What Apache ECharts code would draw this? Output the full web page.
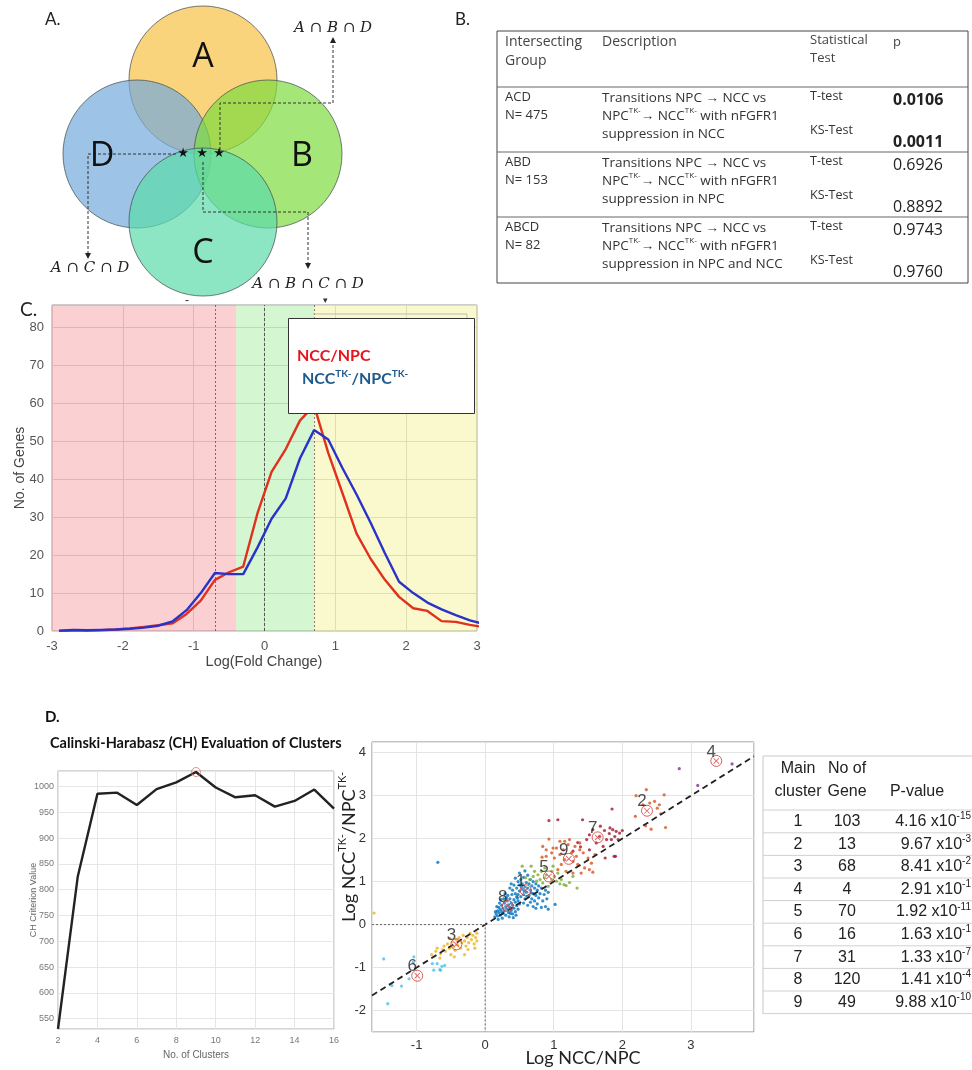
<!DOCTYPE html>
<html><head><meta charset="utf-8">
<script src="https://cdn.jsdelivr.net/npm/echarts@6/dist/echarts.min.js"></script>
<style>html,body{margin:0;padding:0;background:#fff}#c{width:972px;height:1070px}</style>
</head><body><div id="c"></div>
<script>
// ---------- Panel C: histogram curves ----------
const foldChangeBins = [-2.9,-2.7,-2.5,-2.3,-2.1,-1.9,-1.7,-1.5,-1.3,-1.1,-0.9,-0.7,-0.5,-0.3,-0.1,0.1,0.3,0.5,0.7,0.9,1.1,1.3,1.5,1.7,1.9,2.1,2.3,2.5,2.7,2.9,3.1];
const genesNccNpc = [0,0.1,0.1,0.2,0.4,0.7,1.1,1.5,2,4.5,8,13.5,15.5,17,31,42,48,55.5,59.5,47,36.4,25.7,19,13.5,9,6,5.3,2.6,2.4,1.6,1.0];
const genesNccTkNpcTk = [0.1,0.3,0.2,0.3,0.4,0.6,0.9,1.4,2.5,5.5,10,15.3,15,15,22,29.6,35,45.5,53,50.5,43,36,28.5,20.5,13,10,7.5,5.7,4.2,2.8,1.8];
const regionBounds = [-3,-0.4,0.7,3];
const thresholdLines = [-0.7,0,0.7];

// ---------- Panel D left: CH criterion ----------
const numClusters = [2,3,4,5,6,7,8,9,10,11,12,13,14,15,16];
const chCriterion = [530,825,986,988,964,995,1008,1028,998,979,983,961,972,994,957];
const chBest = [9,1028];

// ---------- Panel D middle: cluster scatter ----------
const cluster1 = [[0.40,0.80],[0.42,0.92],[0.44,0.72],[0.46,0.85],[0.48,1.00],[0.48,0.70],[0.50,0.78],[0.50,0.92],[0.52,0.65],[0.52,1.05],[0.54,0.82],[0.54,0.95],[0.56,0.70],[0.56,1.10],[0.58,0.88],[0.58,0.60],[0.60,0.98],[0.60,0.75],[0.62,0.85],[0.62,1.15],[0.64,0.68],[0.64,0.95],[0.66,0.80],[0.66,1.05],[0.68,0.60],[0.68,0.90],[0.70,0.72],[0.70,1.00],[0.72,0.85],[0.72,0.55],[0.74,0.95],[0.74,0.68],[0.76,0.80],[0.78,0.62],[0.78,0.90],[0.80,0.72],[0.82,0.85],[0.84,0.55],[0.86,0.70],[0.88,0.80],[0.90,0.60],[0.92,0.75],[0.56,0.50],[0.62,0.45],[0.70,0.42],[0.76,0.48],[0.82,0.40],[0.88,0.42],[0.58,1.25],[0.50,1.20],[0.44,1.08],[0.38,0.95],[0.36,0.85],[0.66,0.52],[0.74,0.38],[0.92,0.36],[1.02,0.47],[0.53,0.88],[0.61,0.66],[0.67,0.74],[0.47,0.62],[0.57,0.78],[-0.69,1.45]];
const cluster8 = [[0.14,0.18],[0.16,0.25],[0.18,0.32],[0.18,0.20],[0.20,0.28],[0.20,0.40],[0.22,0.22],[0.22,0.35],[0.24,0.30],[0.24,0.45],[0.26,0.26],[0.26,0.38],[0.28,0.50],[0.28,0.32],[0.30,0.42],[0.30,0.22],[0.32,0.36],[0.32,0.55],[0.34,0.28],[0.34,0.46],[0.36,0.40],[0.36,0.60],[0.38,0.33],[0.38,0.50],[0.40,0.45],[0.40,0.25],[0.42,0.58],[0.42,0.38],[0.44,0.52],[0.44,0.30],[0.46,0.44],[0.46,0.65],[0.48,0.36],[0.48,0.55],[0.50,0.48],[0.27,0.60],[0.33,0.68],[0.21,0.50],[0.17,0.42],[0.25,0.15],[0.35,0.18],[0.45,0.22],[0.39,0.70],[0.31,0.62],[0.15,0.30],[0.19,0.12],[0.29,0.72],[0.23,0.58],[0.41,0.16],[0.37,0.26]];
const cluster2 = [[2.20,3.00],[2.35,3.14],[2.19,2.52],[2.30,2.79],[2.40,2.83],[2.47,2.87],[2.61,3.02],[2.51,2.71],[2.56,2.58],[2.42,2.22],[2.63,2.26],[2.54,2.79],[2.34,2.30]];
const cluster3 = [[-0.78,-0.70],[-0.72,-0.62],[-0.70,-0.55],[-0.65,-0.68],[-0.62,-0.58],[-0.60,-0.50],[-0.58,-0.62],[-0.55,-0.45],[-0.52,-0.55],[-0.50,-0.70],[-0.48,-0.40],[-0.46,-0.52],[-0.44,-0.60],[-0.42,-0.35],[-0.40,-0.48],[-0.38,-0.30],[-0.36,-0.55],[-0.34,-0.42],[-0.32,-0.25],[-0.30,-0.38],[-0.28,-0.50],[-0.26,-0.30],[-0.24,-0.42],[-0.22,-0.20],[-0.20,-0.35],[-0.18,-0.25],[-0.16,-0.45],[-0.14,-0.30],[-0.12,-0.20],[-0.12,-0.38],[-0.30,-0.70],[-0.52,-0.32],[-0.66,-0.78],[-0.45,-0.75],[-0.25,-0.58],[-0.15,-0.55],[-1.62,0.27]];
const cluster4 = [[2.83,3.63],[3.10,3.24],[3.60,3.74]];
const cluster5 = [[0.67,1.36],[0.54,1.36],[0.72,1.24],[0.77,1.16],[0.82,1.24],[0.87,1.32],[0.89,1.16],[0.97,1.24],[1.01,1.12],[1.06,1.20],[1.11,1.05],[1.15,0.93],[1.18,0.91],[1.09,0.95],[1.04,1.01],[1.34,0.85],[0.80,1.05],[0.75,1.01],[0.84,0.97],[0.92,0.89],[0.87,1.09],[0.97,1.05],[0.99,1.36],[0.70,1.12],[0.59,1.09],[0.65,1.05],[1.23,0.98],[1.28,1.12]];
const cluster6 = [[-1.48,-0.80],[-1.04,-0.75],[-1.36,-1.42],[-1.22,-1.43],[-1.11,-1.26],[-1.42,-1.84],[-0.77,-0.91],[-0.70,-0.91],[-0.75,-1.06],[-0.66,-1.05],[-0.63,-0.97],[-0.59,-0.95],[-0.65,-1.06],[-1.05,-0.88]];
const cluster7 = [[1.85,2.69],[1.82,2.25],[1.86,2.21],[1.91,2.17],[1.96,2.13],[1.89,2.05],[2.00,2.19],[1.94,1.98],[1.77,1.98],[1.88,1.59],[1.90,1.59],[1.75,1.55],[1.57,2.21],[1.52,2.09],[1.67,2.05],[1.42,2.44],[1.35,1.91],[1.39,1.81],[1.52,1.74],[1.06,2.44],[0.93,2.42],[1.62,1.90],[1.72,1.82],[1.28,1.71],[1.48,1.98],[1.81,2.12],[1.74,2.19],[1.68,2.29],[1.84,1.98]];
const cluster9 = [[0.93,1.99],[0.83,1.57],[0.89,1.59],[0.97,1.67],[1.01,1.55],[1.04,1.78],[1.09,1.63],[1.14,1.74],[1.16,1.51],[1.21,1.86],[1.26,1.67],[1.28,1.47],[1.33,1.59],[1.35,1.40],[1.38,1.74],[1.43,1.67],[1.45,1.32],[1.50,1.55],[1.52,1.28],[1.57,1.22],[1.55,1.43],[1.11,1.40],[1.06,1.28],[1.18,1.24],[1.31,1.82],[1.16,1.94],[0.99,1.78],[1.38,1.90],[1.23,1.98],[1.60,1.63],[1.40,1.20],[0.89,1.74],[1.28,1.20],[0.84,1.82],[1.09,1.94]];
const centroidNames = ['1','2','3','4','5','6','7','8','9'];
const centroids = [[0.59,0.80],[2.36,2.65],[-0.42,-0.46],[3.37,3.81],[0.93,1.12],[-0.99,-1.19],[1.64,2.03],[0.33,0.43],[1.22,1.53]];
const scatterX = [-1.65,3.92];
const scatterY = [-2.5,4.25];

// ---------- Panel D table ----------
const mainCluster = ['1','2','3','4','5','6','7','8','9'];
const geneCounts = [103,13,68,4,70,16,31,120,49];
const pMantissa = ['4.16','9.67','8.41','2.91','1.92','1.63','1.33','1.41','9.88'];
const pExponent = ['-15','-3','-2','-1','-11','-1','-7','-4','-10'];

// ---------- Panel B table ----------
const groupNames = ['ACD','ABD','ABCD'];
const groupN = ['N= 475','N= 153','N= 82'];
const suppressionIn = ['NCC','NPC','NPC and NCC'];
const tTestP = ['0.0106','0.6926','0.9743'];
const ksTestP = ['0.0011','0.8892','0.9760'];
const boldP = [true,false,false];

const SANS = 'Liberation Sans';
const CAL = 'Lato';
const chart = echarts.init(document.getElementById('c'), null, {renderer:'canvas', width:972, height:1070});
const pairs = (xs, ys) => xs.map((x, i) => [x, ys[i]]);

const G = [];
function txt(x, y, text, st, extra) {
  G.push(Object.assign({type:'text', x, y, z:60, style:Object.assign({text, fill:'#333', fontSize:14, fontFamily:SANS, align:'left', verticalAlign:'middle'}, st||{})}, extra||{}));
}
function ln(x1,y1,x2,y2,st,z){ G.push({type:'line', z:z||55, shape:{x1,y1,x2,y2}, style:Object.assign({stroke:'#555', lineWidth:1}, st||{})}); }

// ----- Panel A: Venn -----
txt(45, 20, 'A.', {fontSize:17, fontFamily:CAL, fill:'#222'});
txt(455, 20, 'B.', {fontSize:17, fontFamily:CAL, fill:'#222'});
const vennCircles = [
  {cx:203, cy:80, fill:'rgba(248,194,69,0.70)'},
  {cx:137, cy:154, fill:'rgba(115,169,219,0.70)'},
  {cx:268, cy:154, fill:'rgba(126,219,62,0.70)'},
  {cx:203, cy:222, fill:'rgba(91,219,169,0.70)'}
];
vennCircles.forEach((c, i) => G.push({type:'circle', z:10+i, shape:{cx:c.cx, cy:c.cy, r:74}, style:{fill:c.fill, stroke:'rgba(70,80,80,0.75)', lineWidth:1}}));
[['A',203,57],['D',102,156],['B',302,156],['C',203,253]].forEach(a => txt(a[1], a[2], a[0], {fontSize:34, fontFamily:'Open Sans', fill:'#111', align:'center'}));
[183,202,219].forEach(x => txt(x, 154, '★', {fontSize:13, fill:'#111', align:'center', fontFamily:'DejaVu Sans'}));
const dash = {stroke:'#333', lineWidth:1, lineDash:[3,2]};
G.push({type:'polyline', z:30, shape:{points:[[176,154],[88,154],[88,254]]}, style:Object.assign({fill:null}, dash)});
G.push({type:'polyline', z:30, shape:{points:[[220,150],[220,103],[333,103],[333,42]]}, style:Object.assign({fill:null}, dash)});
G.push({type:'polyline', z:30, shape:{points:[[203,162],[203,212],[308,212],[308,264]]}, style:Object.assign({fill:null}, dash)});
G.push({type:'polygon', z:30, shape:{points:[[85,253],[91,253],[88,259]]}, style:{fill:'#222'}});
G.push({type:'polygon', z:30, shape:{points:[[330,43],[336,43],[333,37]]}, style:{fill:'#222'}});
G.push({type:'polygon', z:30, shape:{points:[[305,263],[311,263],[308,269]]}, style:{fill:'#222'}});
const capStyle = {fontSize:15, fontFamily:'DejaVu Serif', fontStyle:'italic', fill:'#222', align:'center'};
txt(333, 28, 'A ∩ B ∩ D', capStyle);
txt(90, 268, 'A ∩ C ∩ D', capStyle);
txt(308, 284, 'A ∩ B ∩ C ∩ D', capStyle);

// ----- Panel B: table -----
const tbL = 497, tbR = 968;
const rowTops = [87,152,217];
ln(tbL,31,tbR,31,{stroke:'#444'}); ln(tbL,283,tbR,283,{stroke:'#444'});
ln(tbL,31,tbL,283,{stroke:'#444'}); ln(tbR,31,tbR,283,{stroke:'#444'});
rowTops.forEach(y => ln(tbL,y,tbR,y,{stroke:'#666'}));
const hd = {fontSize:14, fill:'#444', fontFamily:'Open Sans'};
txt(505,42,'Intersecting',hd); txt(505,61,'Group',hd);
txt(602,42,'Description',hd);
txt(810,40,'Statistical',Object.assign({},hd,{fontSize:13})); txt(810,58,'Test',Object.assign({},hd,{fontSize:13}));
txt(893,42,'p',Object.assign({},hd,{fontSize:13}));
const sr = {n:{fontSize:13.5, fontFamily:'Open Sans', fill:'#333', lineHeight:18}, s:{fontSize:8, fontFamily:'Open Sans', fill:'#333', lineHeight:11, verticalAlign:'top'}};
rowTops.forEach((t, i) => {
  const b = {fontSize:13, fill:'#333', fontFamily:'Open Sans'};
  txt(505, t+10, groupNames[i], b);
  txt(505, t+28, groupN[i], b);
  txt(602, t+11, '{n|Transitions NPC → NCC vs}', {rich:sr});
  txt(602, t+29, '{n|NPC}{s|TK-}{n|→ NCC}{s|TK-}{n| with nFGFR1}', {rich:sr});
  txt(602, t+47, '{n|suppression in ' + suppressionIn[i] + '}', {rich:sr});
  txt(810, t+9, 'T-test', {fontSize:12.5, fill:'#333', fontFamily:'Open Sans'});
  txt(810, t+43, 'KS-Test', {fontSize:12.5, fill:'#333', fontFamily:'Open Sans'});
  const pst = {fontSize:16, fill:'#222', fontFamily:'Open Sans', fontWeight: boldP[i] ? 'bold' : 'normal'};
  txt(893, t+13, tTestP[i], pst);
  txt(893, t+55, ksTestP[i], pst);
});

// ----- Panel C: labels and legend -----
txt(20, 310, 'C.', {fontSize:19, fontFamily:CAL, fill:'#222'});
txt(187, 301, '-', {fontSize:12, fill:'#333', align:'center'});
txt(325, 301, '▾', {fontSize:9, fill:'#333', align:'center'});
txt(20, 468, 'No. of Genes', {fontSize:14, fill:'#444', align:'center'}, {rotation:Math.PI/2});
txt(264, 662, 'Log(Fold Change)', {fontSize:14.5, fill:'#444', align:'center'});
G.push({type:'polyline', z:95, shape:{points:[[313,314],[467,314],[467,318]]}, style:{stroke:'#bbb', fill:null, lineWidth:1}});
G.push({type:'rect', z:100, shape:{x:288.5, y:318.5, width:186, height:95}, style:{fill:'#fff', stroke:'#333', lineWidth:1}});
txt(297, 356, 'NCC/NPC', {fontSize:16, fontWeight:'bold', fontFamily:CAL, fill:'#e8141c'}, {z:101});
txt(302, 379, '{n|NCC}{s|TK-}{n|/NPC}{s|TK-}', {rich:{n:{fontSize:16, fontWeight:'bold', fontFamily:CAL, fill:'#1f5a8c', lineHeight:20}, s:{fontSize:10, fontWeight:'bold', fontFamily:CAL, fill:'#1f5a8c', lineHeight:13, verticalAlign:'top'}}}, {z:101});

// ----- Panel D: labels -----
txt(45, 717, 'D.', {fontSize:15, fontWeight:'bold', fontFamily:CAL, fill:'#111'});
txt(50, 743, 'Calinski-Harabasz (CH) Evaluation of Clusters', {fontSize:14.5, fontWeight:'bold', fontFamily:CAL, fill:'#111'});
txt(34, 900, 'CH Criterion Value', {fontSize:9, fill:'#666', align:'center'}, {rotation:Math.PI/2});
txt(196, 1055, 'No. of Clusters', {fontSize:10, fill:'#666', align:'center'});
txt(349, 847, '{n|Log NCC}{s|TK-}{n|/NPC}{s|TK-}', {rich:{n:{fontSize:18, fontFamily:CAL, fill:'#222', lineHeight:24}, s:{fontSize:11, fontFamily:CAL, fill:'#222', lineHeight:14, verticalAlign:'top'}}, align:'center'}, {rotation:Math.PI/2});
txt(583, 1058, 'Log NCC/NPC', {fontSize:18, fontFamily:CAL, fill:'#222', align:'center'});

// ----- Panel D: table -----
const tdL = 763;
ln(tdL,756,972,756,{stroke:'#c8c8c8'});
ln(tdL,756,tdL,1014,{stroke:'#c8c8c8'});
ln(tdL,810,972,810,{stroke:'#d0d0d0'});
const tf = {fontSize:16, fill:'#222', fontFamily:SANS, align:'center'};
txt(798,769,'Main',tf); txt(798,792,'cluster',tf);
txt(847,769,'No of',tf); txt(847,792,'Gene',tf);
txt(917,792,'P-value',tf);
mainCluster.forEach((c, i) => {
  const y = 821.5 + i*22.6;
  ln(tdL, y+11.3, 972, y+11.3, {stroke:'#d0d0d0'});
  txt(798, y, c, tf);
  txt(847, y, String(geneCounts[i]), tf);
  txt(971, y, '{m|' + pMantissa[i] + ' x10}{e|' + pExponent[i] + '}', {align:'right', rich:{m:{fontSize:16, fontFamily:SANS, fill:'#222', lineHeight:20}, e:{fontSize:10, fontFamily:SANS, fill:'#222', lineHeight:12, verticalAlign:'top'}}});
});

// ---------- ECharts option ----------
const grid0 = {left:52, top:305, width:425, height:326, show:true, borderColor:'#9a9a9a', borderWidth:1, backgroundColor:'transparent'};
const grid1 = {left:58, top:771, width:276, height:258, show:true, borderColor:'#aaa', borderWidth:1, backgroundColor:'transparent'};
const grid2 = {left:372, top:742, width:382, height:290, show:true, borderColor:'#888', borderWidth:1, backgroundColor:'transparent'};
const noLine = {show:false};
const isMult = (v, m) => Math.abs(v/m - Math.round(v/m)) < 1e-6;

const clusterColors = {c1:'#0072BD', c8:'#0072BD', c2:'#D95319', c3:'#EDB120', c4:'#7E2F8E', c5:'#77AC30', c6:'#4DBEEE', c7:'#A2142F', c9:'#D95319'};
const clusterData = {c1:cluster1, c8:cluster8, c2:cluster2, c3:cluster3, c4:cluster4, c5:cluster5, c6:cluster6, c7:cluster7, c9:cluster9};

const series = [
  {type:'line', name:'NCC/NPC', xAxisIndex:0, yAxisIndex:0, data:pairs(foldChangeBins, genesNccNpc), showSymbol:false, clip:true, lineStyle:{color:'#e0301e', width:2.4}, itemStyle:{color:'#e0301e'}, z:3,
    markArea:{silent:true, z:1, data:[
      [{xAxis:regionBounds[0], itemStyle:{color:'rgba(240,120,125,0.35)'}},{xAxis:regionBounds[1]}],
      [{xAxis:regionBounds[1], itemStyle:{color:'rgba(133,229,120,0.35)'}},{xAxis:regionBounds[2]}],
      [{xAxis:regionBounds[2], itemStyle:{color:'rgba(240,237,112,0.35)'}},{xAxis:regionBounds[3]}]
    ]},
    markLine:{silent:true, symbol:'none', label:{show:false}, z:2, data:[
      {xAxis:thresholdLines[0], lineStyle:{color:'#a05a5a', type:[2,2], width:1}},
      {xAxis:thresholdLines[1], lineStyle:{color:'#555', type:[3,2], width:1}},
      {xAxis:thresholdLines[2], lineStyle:{color:'#8a7a6a', type:[2,2], width:1}}
    ]}
  },
  {type:'line', name:'NCCTK-/NPCTK-', xAxisIndex:0, yAxisIndex:0, data:pairs(foldChangeBins, genesNccTkNpcTk), showSymbol:false, clip:true, lineStyle:{color:'#2a32c8', width:2.4}, itemStyle:{color:'#2a32c8'}, z:4},
  {type:'line', xAxisIndex:1, yAxisIndex:1, data:pairs(numClusters, chCriterion), showSymbol:false, clip:true, lineStyle:{color:'#222', width:2.4}},
  {type:'scatter', xAxisIndex:1, yAxisIndex:1, data:[chBest], symbol:'circle', symbolSize:9, clip:true, itemStyle:{color:'rgba(0,0,0,0)', borderColor:'#e07070', borderWidth:1}, z:5}
];
Object.keys(clusterData).forEach(k => series.push({type:'scatter', xAxisIndex:2, yAxisIndex:2, data:clusterData[k], symbolSize:3.2, itemStyle:{color:clusterColors[k]}, z:3}));
series.push({type:'line', xAxisIndex:2, yAxisIndex:2, data:[[scatterX[0],scatterX[0]],[scatterX[1],scatterX[1]]], showSymbol:false, lineStyle:{color:'#222', width:1.8, type:[6,4]}, z:4});
series.push({type:'line', xAxisIndex:2, yAxisIndex:2, data:[[scatterX[0],0],[0,0],[0,scatterY[0]]], showSymbol:false, lineStyle:{color:'#666', width:1, type:[2,2]}, z:4});
series.push({type:'scatter', xAxisIndex:2, yAxisIndex:2, data:centroids.map((p, i) => ({name:centroidNames[i], value:p})), symbol:'circle', symbolSize:11,
  itemStyle:{color:'rgba(255,255,255,0.15)', borderColor:'#d23a3a', borderWidth:1}, z:6,
  label:{show:true, position:'inside', offset:[-5,-9], formatter:'{b}', fontSize:17, fontFamily:SANS, color:'#222'}});
series.push({type:'scatter', xAxisIndex:2, yAxisIndex:2, data:centroids, symbol:'path://M1,0L5,4L9,0L10,1L6,5L10,9L9,10L5,6L1,10L0,9L4,5L0,1Z', symbolSize:6, itemStyle:{color:'#d23a3a'}, z:7});

const option = {
  animation:false,
  backgroundColor:'#fff',
  grid:[grid0, grid1, grid2],
  xAxis:[
    {gridIndex:0, type:'value', min:-3, max:3, interval:1, axisLine:noLine, axisTick:noLine,
      splitLine:{lineStyle:{color:'#d6d6d6'}}, axisLabel:{color:'#555', fontSize:13, fontFamily:SANS, margin:9}},
    {gridIndex:1, type:'value', min:2, max:16, interval:2, axisLine:noLine, axisTick:noLine,
      splitLine:{lineStyle:{color:'#e6e6e6'}}, axisLabel:{color:'#777', fontSize:9, fontFamily:SANS, margin:7}},
    {gridIndex:2, type:'value', min:scatterX[0], max:scatterX[1], splitNumber:6, axisLine:noLine, axisTick:noLine,
      splitLine:{lineStyle:{color:'#e4e4e4'}}, axisLabel:{color:'#333', fontSize:13, fontFamily:SANS, margin:7, formatter:v => isMult(v,1) ? String(Math.round(v)) : ''}}
  ],
  yAxis:[
    {gridIndex:0, type:'value', min:0, max:86, interval:10, axisLine:noLine, axisTick:noLine,
      splitLine:{lineStyle:{color:'#d6d6d6'}}, axisLabel:{color:'#555', fontSize:13, fontFamily:SANS, margin:8, formatter:v => isMult(v,10) ? String(Math.round(v)) : ''}},
    {gridIndex:1, type:'value', min:530, max:1030, splitNumber:10, axisLine:noLine, axisTick:noLine,
      splitLine:{lineStyle:{color:'#e6e6e6'}}, axisLabel:{color:'#777', fontSize:9, fontFamily:SANS, margin:4, formatter:v => isMult(v,50) ? String(Math.round(v)) : ''}},
    {gridIndex:2, type:'value', min:scatterY[0], max:scatterY[1], splitNumber:7, axisLine:noLine, axisTick:noLine,
      splitLine:{lineStyle:{color:'#e4e4e4'}}, axisLabel:{color:'#333', fontSize:13, fontFamily:SANS, margin:6, formatter:v => isMult(v,1) ? String(Math.round(v)) : ''}}
  ],
  graphic:{elements:G},
  series
};
chart.setOption(option);
</script></body></html>
